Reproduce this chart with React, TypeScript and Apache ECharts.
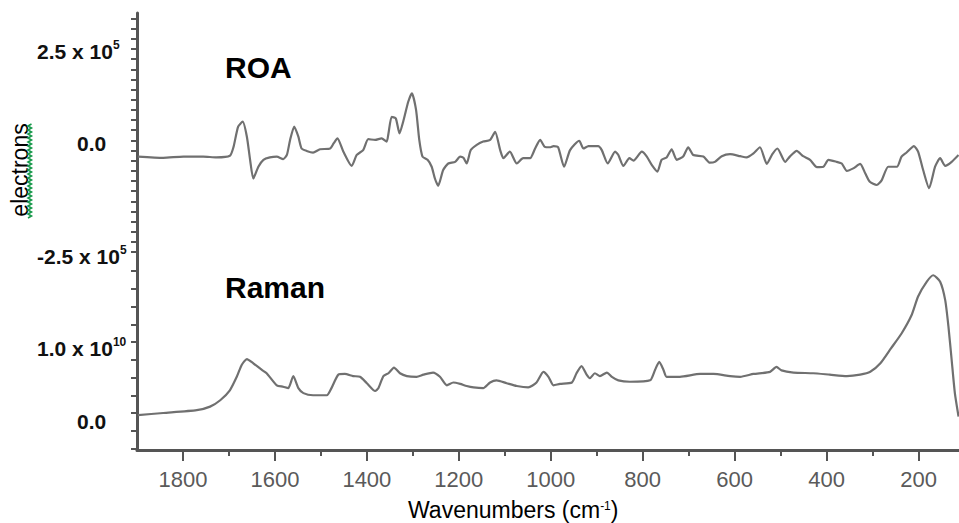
import React, { useEffect, useRef } from "react";
import * as echarts from "echarts";

// ROA spectrum (values in units of 10^5 electrons)
const roaWavenumbers = [
  1898, 1843, 1799, 1756, 1727, 1698, 1690, 1680, 1670, 1661, 1654, 1647, 1636, 1625, 1611, 1596,
  1582, 1574, 1567, 1558, 1549, 1542, 1531, 1517, 1502, 1480, 1472, 1464, 1451, 1433, 1422, 1408,
  1397, 1382, 1368, 1357, 1353, 1346, 1337, 1329, 1321, 1310, 1302, 1293, 1286, 1279, 1268, 1259,
  1252, 1245, 1234, 1223, 1208, 1197, 1190, 1183, 1174, 1161, 1147, 1132, 1121, 1110, 1103, 1089,
  1074, 1060, 1045, 1034, 1023, 1013, 1002, 994, 984, 971, 958, 938, 929, 918, 897, 889, 876, 860,
  853, 842, 829, 820, 802, 791, 780, 768, 759, 748, 737, 726, 712, 701, 690, 668, 654, 643, 628,
  610, 588, 574, 559, 545, 530, 518, 507, 490, 480, 465, 451, 436, 421, 407, 396, 378, 367, 356,
  342, 327, 316, 306, 291, 280, 266, 247, 237, 226, 210, 201, 190, 177, 164, 153, 142, 128, 113,
];
const roaValues = [
  -0.15, -0.18, -0.15, -0.15, -0.17, -0.13, 0.09, 0.59, 0.71, 0.34, -0.23, -0.69, -0.4, -0.23, -0.17, -0.15,
  -0.21, -0.11, 0.26, 0.59, 0.34, 0.05, -0.01, -0.05, 0.03, 0.05, 0.18, 0.3, -0.03, -0.38, -0.11, 0.01,
  0.28, 0.26, 0.3, 0.22, 0.42, 0.83, 0.79, 0.42, 0.71, 1.2, 1.41, 1.0, 0.26, -0.15, -0.23, -0.4,
  -0.69, -0.87, -0.48, -0.32, -0.28, -0.15, -0.18, -0.32, 0.01, 0.14, 0.22, 0.26, 0.46, 0.01, -0.19, -0.03,
  -0.32, -0.19, -0.19, 0.05, 0.26, 0.09, 0.08, 0.11, 0.08, -0.4, 0.01, 0.24, 0.05, 0.11, 0.11, 0.01, -0.32, -0.03,
  -0.11, -0.38, -0.19, -0.25, -0.03, -0.15, -0.36, -0.52, -0.23, -0.17, 0.03, -0.23, -0.15, 0.08, -0.11, -0.15, -0.3, -0.28, -0.14,
  -0.09, -0.14, -0.17, -0.07, 0.08, -0.33, -0.09, 0.05, -0.28, -0.15, -0.01, -0.14, -0.23, -0.41, -0.4, -0.23, -0.28, -0.32, -0.5,
  -0.44, -0.33, -0.56, -0.77, -0.85, -0.73, -0.4, -0.4, -0.15, -0.05, 0.11, -0.03, -0.48, -0.93, -0.4, -0.19, -0.38, -0.28, -0.11,
];

// Raman spectrum (values in units of 10^10 electrons)
const ramanWavenumbers = [
  1898, 1843, 1770, 1741, 1719, 1698, 1683, 1672, 1661, 1647, 1629, 1618, 1596, 1582, 1571, 1560,
  1549, 1538, 1517, 1487, 1477, 1462, 1448, 1430, 1415, 1400, 1382, 1375, 1364, 1353, 1341, 1328,
  1313, 1292, 1277, 1256, 1241, 1226, 1212, 1197, 1183, 1168, 1147, 1132, 1118, 1096, 1074, 1049,
  1031, 1016, 1005, 994, 980, 954, 944, 933, 922, 915, 904, 893, 878, 867, 853, 828, 784, 773, 764,
  755, 748, 719, 675, 646, 610, 588, 559, 523, 509, 498, 472, 429, 393, 356, 327, 305, 283, 260,
  237, 215, 201, 182, 168, 153, 142, 135, 128, 121, 113,
];
const ramanValues = [
  -0.03, 0.0, 0.04, 0.09, 0.18, 0.32, 0.51, 0.68, 0.76, 0.7, 0.61, 0.56, 0.39, 0.37, 0.35, 0.52,
  0.35, 0.28, 0.25, 0.25, 0.35, 0.54, 0.55, 0.52, 0.51, 0.42, 0.31, 0.35, 0.52, 0.56, 0.64, 0.56,
  0.52, 0.51, 0.54, 0.57, 0.51, 0.39, 0.43, 0.41, 0.38, 0.36, 0.35, 0.43, 0.46, 0.42, 0.38, 0.36,
  0.43, 0.58, 0.51, 0.39, 0.41, 0.43, 0.56, 0.66, 0.54, 0.49, 0.56, 0.52, 0.57, 0.51, 0.46, 0.44, 0.46, 0.61, 0.72,
  0.61, 0.51, 0.51, 0.55, 0.55, 0.52, 0.51, 0.55, 0.58, 0.65, 0.6, 0.57, 0.56, 0.54, 0.52, 0.54, 0.58, 0.7, 0.91,
  1.12, 1.38, 1.64, 1.85, 1.94, 1.85, 1.59, 1.22, 0.75, 0.28, -0.05,
];

// Axis ticks and labels
const xMajorTicks = [1800, 1600, 1400, 1200, 1000, 800, 600, 400, 200];
const xMinorTicks = [1700, 1500, 1300, 1100, 900, 700, 500, 300];
const roaLabelValues = [2.5, 0, -2.5];
const ramanLabelValues = [1.0, 0];
const roaExponent = "5";
const ramanExponent = "10";

const FONT = "'Liberation Sans', Arial, Helvetica, sans-serif";

function stepTicks(from: number, to: number, step: number): number[] {
  const out: number[] = [];
  const n = Math.round((to - from) / step);
  for (let i = 0; i <= n; i++) out.push(+(from + i * step).toFixed(4));
  return out;
}

export default function App() {
  const ref = useRef<HTMLDivElement>(null);

  useEffect(() => {
    if (!ref.current) return;
    const chart = echarts.init(ref.current, undefined, { renderer: "svg" });

    const rich = {
      m: { fontSize: 21, lineHeight: 24, fontWeight: "bold", color: "#111", fontFamily: FONT },
      s: { fontSize: 12, lineHeight: 11, verticalAlign: "top", fontWeight: "bold", color: "#111", fontFamily: FONT },
      sp: { width: 40, fontSize: 8, lineHeight: 8 },
      g4: { fontSize: 4, lineHeight: 4 },
      g8: { fontSize: 8, lineHeight: 8 },
      g12: { fontSize: 12, lineHeight: 12 },
      g15: { fontSize: 15, lineHeight: 15 },
      g16: { fontSize: 16, lineHeight: 16 },
    };

    const squiggle: number[][] = [];
    for (let y = 218, k = 0; y >= 123; y -= 2, k++) squiggle.push([k % 2 ? 31.5 : 28, y]);

    chart.setOption({
      animation: false,
      grid: { left: 137, right: 0, top: 13, bottom: 73, outerBoundsMode: "none" },
      xAxis: [
        {
          type: "value",
          min: 112,
          max: 1900,
          inverse: true,
          position: "bottom",
          axisLine: { show: true, onZero: false, lineStyle: { color: "#555", width: 3 } },
          axisTick: { show: true, customValues: xMajorTicks, length: 11, lineStyle: { color: "#555", width: 2 } },
          axisLabel: {
            show: true,
            customValues: xMajorTicks,
            margin: 18,
            fontSize: 22,
            color: "#5a5a5a",
            fontFamily: FONT,
            formatter: (v: number) => String(v),
          },
          splitLine: { show: false },
        },
        {
          type: "value",
          min: 112,
          max: 1900,
          inverse: true,
          position: "bottom",
          axisLine: { show: false, onZero: false },
          axisTick: { show: true, customValues: xMinorTicks, length: 6, lineStyle: { color: "#555", width: 2 } },
          axisLabel: { show: false },
          splitLine: { show: false },
        },
      ],
      yAxis: [
        {
          type: "value",
          min: -7.377,
          max: 3.387,
          position: "left",
          axisLine: { show: true, onZero: false, lineStyle: { color: "#555", width: 3 } },
          axisTick: {
            show: true,
            customValues: stepTicks(-2.5, 3.25, 0.25),
            length: 6,
            lineStyle: { color: "#555", width: 2 },
          },
          axisLabel: {
            show: true,
            customValues: roaLabelValues,
            align: "left",
            verticalAlign: "middle",
            margin: 100,
            rich,
            formatter: (v: number) => {
              if (Math.abs(v) < 1e-9) return "{sp| }{m|0.0}\n{g15| }";
              if (v > 0) return `{g4| }\n{m|${v.toFixed(1)} x 10}{s|${roaExponent}}`;
              return `{g8| }\n{m|${v.toFixed(1)} x 10}{s|${roaExponent}}`;
            },
          },
          splitLine: { show: false },
        },
        {
          type: "value",
          min: -0.521,
          max: 5.634,
          position: "left",
          axisLine: { show: false, onZero: false },
          axisTick: {
            show: true,
            customValues: stepTicks(-0.5, 2.0, 0.25),
            length: 6,
            lineStyle: { color: "#555", width: 2 },
          },
          axisLabel: {
            show: true,
            customValues: ramanLabelValues,
            align: "left",
            verticalAlign: "middle",
            margin: 100,
            rich,
            formatter: (v: number) => {
              if (Math.abs(v) < 1e-9) return "{g16| }\n{sp| }{m|0.0}";
              return `{g12| }\n{m|${v.toFixed(1)} x 10}{s|${ramanExponent}}`;
            },
          },
          splitLine: { show: false },
        },
      ],
      series: [
        {
          name: "ROA",
          type: "line",
          xAxisIndex: 0,
          yAxisIndex: 0,
          data: roaWavenumbers.map((w, i) => [w, roaValues[i]]),
          showSymbol: false,
          smooth: 0.2,
          silent: true,
          lineStyle: { color: "#707070", width: 2.2 },
        },
        {
          name: "Raman",
          type: "line",
          xAxisIndex: 0,
          yAxisIndex: 1,
          data: ramanWavenumbers.map((w, i) => [w, ramanValues[i]]),
          showSymbol: false,
          smooth: 0.2,
          silent: true,
          lineStyle: { color: "#707070", width: 2.2 },
        },
      ],
      graphic: [
        {
          type: "text",
          left: 225,
          top: 52,
          style: { text: "ROA", fontSize: 30, fontWeight: "bold", fill: "#000", fontFamily: FONT },
        },
        {
          type: "text",
          left: 225,
          top: 272,
          style: { text: "Raman", fontSize: 30, fontWeight: "bold", fill: "#000", fontFamily: FONT },
        },
        {
          type: "text",
          x: 20,
          y: 170,
          rotation: Math.PI / 2,
          style: {
            text: "electrons",
            fontSize: 23,
            fill: "#000",
            fontFamily: FONT,
            align: "center",
            verticalAlign: "middle",
          },
        },
        {
          type: "polyline",
          shape: { points: squiggle },
          style: { stroke: "#17994a", lineWidth: 1.6, fill: "none" },
        },
        {
          type: "text",
          x: 408,
          y: 510,
          style: {
            text: "{a|Wavenumbers (cm}{b|-1}{a|)}",
            verticalAlign: "middle",
            rich: {
              a: { fontSize: 23, lineHeight: 20, fill: "#000", fontFamily: FONT },
              b: { fontSize: 12, lineHeight: 10, verticalAlign: "top", fill: "#000", fontFamily: FONT },
            },
          },
        },
      ],
    });

    return () => chart.dispose();
  }, []);

  return (
    <div
      ref={ref}
      style={{ position: "absolute", left: 0, top: 0, width: 959, height: 523 }}
    />
  );
}
